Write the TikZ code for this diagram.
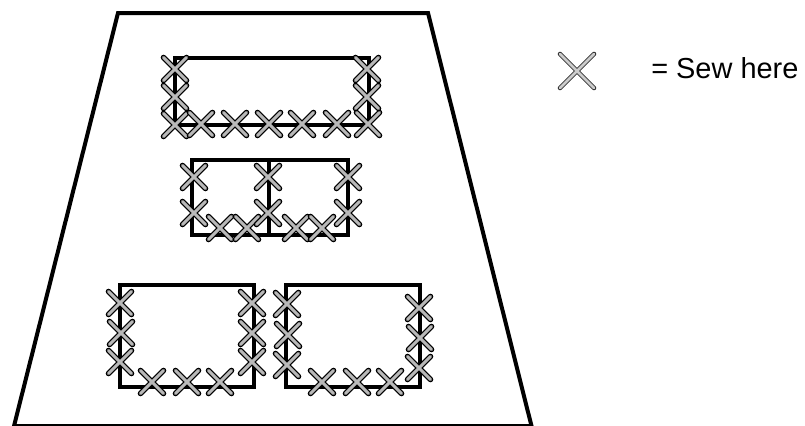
\documentclass[tikz,border=0pt]{standalone}
\usepackage{fontspec}
\setmainfont{Liberation Sans}

\tikzset{
  outline/.style={line width=3pt, line join=miter},
  stitchedge/.style={black, line width=4.2pt, line cap=round},
  stitchcore/.style={gray!55, line width=2.2pt, line cap=round},
  keyedge/.style={black!80, line width=3.4pt, line cap=round},
  keycore/.style={gray!40, line width=1.9pt, line cap=round}
}

\begin{document}
\begin{tikzpicture}[x=0.75pt, y=-0.75pt]
\useasboundingbox (0,0) rectangle (805,425);
% garment
\begin{scope}
\clip (0,0) rectangle (805,425);
\draw[outline] (118,13) -- (428,13) -- (531.5,426) -- (14,426) -- cycle;
\end{scope}
% pockets
\draw[outline] (175,58) rectangle (369,125);
\draw[outline] (192,160) rectangle (348,235);
\draw[outline] (269,160) -- (269,235);
\draw[outline] (120,285) rectangle (254,387);
\draw[outline] (286,285) rectangle (420,387);
% stitches
\foreach \x/\y in {175/69, 175/97, 175/125, 201/124, 235/124, 269/124, 302/124, 337/124,
    368/124, 367/69, 367/97,
    194/177, 194/213, 220/228, 247/228, 268/177, 268/213, 296/228, 322/228, 348/177, 348/213,
    120/303, 121/333, 120/362, 152/382, 187/382, 220/382, 252/303, 252/333, 252/362,
    287/304, 288/335, 287/365, 322/382, 357/382, 390/382, 419/308, 420/338, 419/368} {
  \draw[stitchedge] (\x-11.5,\y-11.5) -- (\x+11.5,\y+11.5) (\x-11.5,\y+11.5) -- (\x+11.5,\y-11.5);
  \draw[stitchcore] (\x-11.5,\y-11.5) -- (\x+11.5,\y+11.5) (\x-11.5,\y+11.5) -- (\x+11.5,\y-11.5);
}
% legend
\draw[keyedge] (560,54) -- (594,88) (560,88) -- (594,54);
\draw[keycore] (560,54) -- (594,88) (560,88) -- (594,54);
\node[anchor=base west, inner sep=0pt, font=\fontsize{21.7}{26}\selectfont] (sewlabel) at (651,78) {= Sew here};
\end{tikzpicture}
\end{document}
